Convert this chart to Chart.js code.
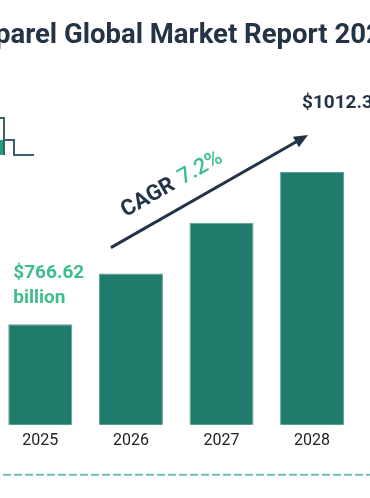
<!DOCTYPE html>
<html>
<head>
<meta charset="utf-8">
<script src="https://cdn.jsdelivr.net/npm/chart.js@4.4.1/dist/chart.umd.min.js"></script>
<style>
  html, body { margin: 0; padding: 0; background: #fff; overflow: hidden; width: 370px; height: 498px; }
  #wrap { position: absolute; left: -96px; top: 0; width: 579px; height: 498px; }
</style>
</head>
<body>
<div id="wrap"><canvas id="marketChart" width="579" height="498"></canvas></div>
<script>
const titleText = "Apparel Global Market Report 2025";
const years = ["2025", "2026", "2027", "2028", "2029"];
// bar heights (2025 and 2029 are labelled)
const marketSize = [766.62, 828.06, 889.5, 950.94, 1012.38];
const firstLabel = ["$766.62", "billion"];
const lastLabel = "$1012.38 billion";
const cagrWord = "CAGR ";
const cagrValue = "7.2%";

const navy = "#243447";
const green = "#3cbf8b";

const decorations = {
  id: "decorations",
  afterDatasetsDraw(chart) {
    const ctx = chart.ctx;
    const bars = chart.getDatasetMeta(0).data;
    ctx.save();

    // title (the page shows it off-centre from the bars)
    ctx.font = "bold 27.5px Roboto";
    ctx.fillStyle = navy;
    ctx.textAlign = "center";
    ctx.textBaseline = "alphabetic";
    ctx.fillText(titleText, 275.5, 43);

    // value labels
    ctx.font = "bold 19px Roboto";
    ctx.fillStyle = green;
    ctx.textAlign = "left";
    const b0 = bars[0];
    ctx.fillText(firstLabel[0], b0.x - b0.width / 2 + 5, b0.y - 46);
    ctx.fillText(firstLabel[1], b0.x - b0.width / 2 + 5, b0.y - 21);
    const bl = bars[bars.length - 1];
    ctx.fillStyle = navy;
    ctx.textAlign = "right";
    ctx.fillText(lastLabel, bl.x + bl.width / 2 + 6, bl.y - 13);

    // cagr arrow
    const x1 = bars[1].x - bars[1].width / 2 + 12, y1 = bars[1].y - 26;
    const x2 = bars[3].x - bars[3].width / 2 + 28, y2 = bars[3].y - 37;
    const ang = Math.atan2(y2 - y1, x2 - x1);
    ctx.strokeStyle = navy;
    ctx.fillStyle = navy;
    ctx.lineWidth = 3;
    ctx.beginPath();
    ctx.moveTo(x1, y1);
    ctx.lineTo(x2 - 8 * Math.cos(ang), y2 - 8 * Math.sin(ang));
    ctx.stroke();
    ctx.beginPath();
    ctx.moveTo(x2, y2);
    ctx.lineTo(x2 - 14 * Math.cos(ang) + 6 * Math.sin(ang), y2 - 14 * Math.sin(ang) - 6 * Math.cos(ang));
    ctx.lineTo(x2 - 14 * Math.cos(ang) - 6 * Math.sin(ang), y2 - 14 * Math.sin(ang) + 6 * Math.cos(ang));
    ctx.closePath();
    ctx.fill();

    // cagr text along the arrow
    ctx.translate(x1, y1);
    ctx.rotate(ang);
    ctx.textAlign = "left";
    ctx.font = "bold 22px Roboto";
    ctx.fillStyle = navy;
    ctx.fillText(cagrWord, 28, -19);
    const w = ctx.measureText(cagrWord).width;
    ctx.font = "500 22px Roboto";
    ctx.fillStyle = green;
    ctx.fillText(cagrValue, 30 + w, -19);
    ctx.restore();

    // small step icon at the left
    ctx.save();
    const ix = chart.chartArea.left + 5;
    ctx.fillStyle = "#1aa37a";
    ctx.fillRect(ix - 2, 140, 6, 15);
    ctx.strokeStyle = "#3f5e68";
    ctx.lineWidth = 2;
    ctx.beginPath();
    ctx.moveTo(ix - 10, 118);
    ctx.lineTo(ix + 4, 118);
    ctx.lineTo(ix + 4, 155);
    ctx.moveTo(ix + 4, 140);
    ctx.lineTo(ix + 14, 140);
    ctx.lineTo(ix + 14, 155);
    ctx.lineTo(ix + 34, 155);
    ctx.stroke();

    // dashed divider
    ctx.strokeStyle = "#6cc1b9";
    ctx.lineWidth = 2;
    ctx.setLineDash([8, 3]);
    ctx.beginPath();
    ctx.moveTo(0, chart.chartArea.bottom + 50);
    ctx.lineTo(chart.width, chart.chartArea.bottom + 50);
    ctx.stroke();
    ctx.restore();
  }
};

const ctx = document.getElementById("marketChart").getContext("2d");

const marketChart = new Chart(ctx, {
  type: "bar",
  data: {
    labels: years,
    datasets: [
      {
        data: marketSize,
        backgroundColor: "#217b6c",
        borderColor: "#5c9f93",
        borderWidth: 1,
        categoryPercentage: 0.707,
        barPercentage: 1,
      },
    ],
  },
  options: {
    responsive: false,
    animation: false,
    layout: { padding: { left: 91, right: 35, top: 63, bottom: 40 } },
    plugins: {
      legend: { display: false },
      tooltip: { enabled: false },
      title: { display: false },
    },
    scales: {
      x: {
        grid: { display: false, drawTicks: false },
        border: { display: false },
        ticks: { color: "#222", font: { family: "Roboto", size: 16 }, padding: 7 },
      },
      y: { display: false, min: 645, max: 1083 },
    },
  },
  plugins: [decorations],
});
</script>
</body>
</html>
